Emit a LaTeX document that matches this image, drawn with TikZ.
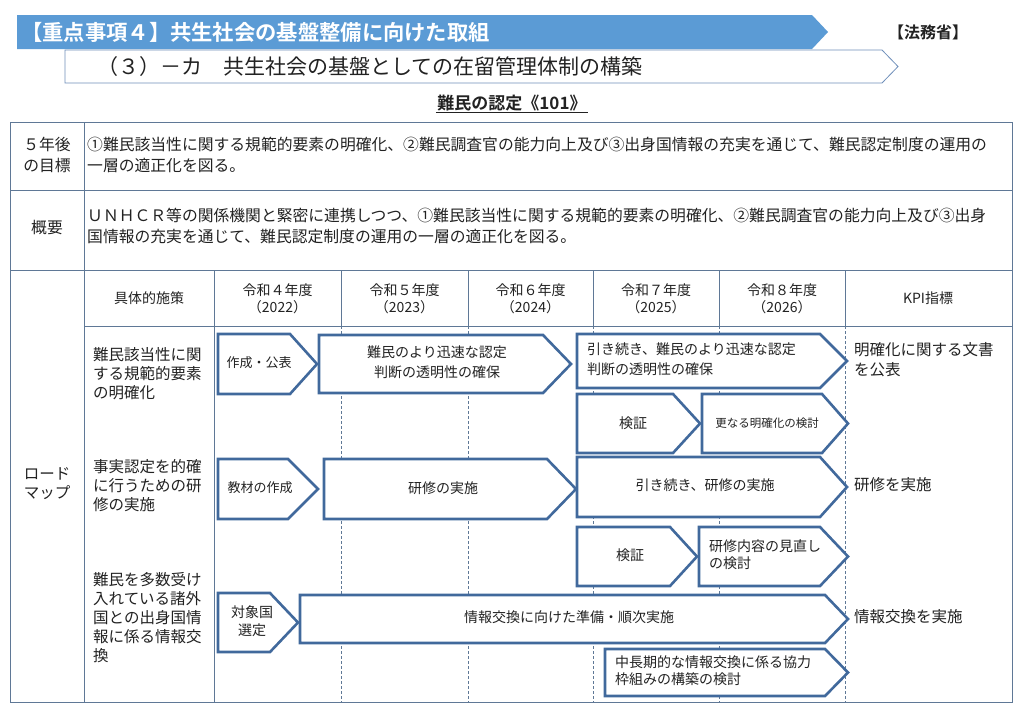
\documentclass[tikz,border=0pt]{standalone}
\usepackage{fontspec}
\setmainfont{Noto Sans CJK JP}[BoldFont={Noto Sans CJK JP Bold}]
\definecolor{bannerc}{HTML}{5B9BD5}
\definecolor{subc}{HTML}{6F8FBA}
\definecolor{arrowc}{HTML}{41699C}
\definecolor{tablec}{HTML}{5F7896}
\definecolor{txtc}{HTML}{222222}
\newcommand\fs[2]{\fontsize{#1}{#2}\selectfont}
\newcommand\pent[5]{\draw[arr] (#1,#2) -- (#3,#2) -- (#4,{(#2+#5)/2}) -- (#3,#5) -- (#1,#5) -- cycle;}
\begin{document}
\begin{tikzpicture}[x=1pt,y=-1pt,
  arr/.style={draw=arrowc, line width=2.6pt, fill=white, line join=miter},
  tline/.style={draw=tablec, line width=0.9pt},
  dline/.style={draw=tablec, line width=0.8pt, dash pattern=on 3pt off 2pt},
  txt/.style={inner sep=0pt, text=txtc},
  body/.style={txt, font=\fs{15.8}{20.5}},
  rlab/.style={txt, font=\fs{15.5}{19}, align=left, anchor=west},
  hd/.style={txt, font=\fs{14}{17}, align=center},
  atext/.style={txt, font=\fs{14}{20}, align=center},
  kpi/.style={txt, font=\fs{15.5}{20}, align=left, anchor=west}]
\useasboundingbox (0,0) rectangle (1024,724);
\fill[white] (0,0) rectangle (1024,724);
% banner
\fill[bannerc] (17,15) -- (812,15) -- (828,32) -- (812,49) -- (17,49) -- cycle;
\node[txt, text=white, anchor=west, font=\bfseries\fs{21.3}{24}] (title) at (21,32) {【重点事項４】共生社会の基盤整備に向けた取組};
\node[txt, anchor=center, font=\bfseries\fs{16}{18}] (ministry) at (928,32) {【法務省】};
\draw[subc, line width=0.8pt, fill=white] (65,50) -- (882,50) -- (898,66.5) -- (882,83) -- (65,83) -- cycle;
\node[txt, anchor=west, font=\fs{21}{24}] (subtitle) at (97,66.5) {（３）－カ　共生社会の基盤としての在留管理体制の構築};
\node[txt, anchor=center, font=\bfseries\fs{17}{20}, inner sep=1.5pt] (head) at (512,103) {難民の認定《101》};
\draw[txtc, line width=0.9pt] (head.south west) -- (head.south east);
% table
\draw[tline] (10,122) rectangle (1012,702);
\draw[tline] (10,190) -- (1012,190);
\draw[tline] (10,270) -- (1012,270);
\draw[tline] (84,326) -- (1012,326);
\draw[tline] (84,122) -- (84,702);
\draw[tline] (214,270) -- (214,702);
\foreach \x in {341,468,593,719,845} {
  \draw[tline] (\x,270) -- (\x,326);
  \draw[dline] (\x,326) -- (\x,702);
}
% goal row
\node[body, align=center] (goalh) at (47,155) {５年後\\の目標};
\node[body, align=left, anchor=west] (goal) at (87,155) {①難民該当性に関する規範的要素の明確化、②難民調査官の能力向上及び③出身国情報の充実を通じて、難民認定制度の運用の\\一層の適正化を図る。};
% overview row
\node[body, align=center] (ovh) at (47,228) {概要};
\node[body, align=left, anchor=west] (ov) at (87,226) {ＵＮＨＣＲ等の関係機関と緊密に連携しつつ、①難民該当性に関する規範的要素の明確化、②難民調査官の能力向上及び③出身\\国情報の充実を通じて、難民認定制度の運用の一層の適正化を図る。};
% header
\node[txt, font=\fs{15.5}{19}, align=center] (rm) at (47,484) {ロード\\マップ};
\node[hd] (h0) at (149,298) {具体的施策};
\node[hd] (h1) at (277.5,298.5) {令和４年度\\（2022）};
\node[hd] (h2) at (404.5,298.5) {令和５年度\\（2023）};
\node[hd] (h3) at (530.5,298.5) {令和６年度\\（2024）};
\node[hd] (h4) at (656,298.5) {令和７年度\\（2025）};
\node[hd] (h5) at (782,298.5) {令和８年度\\（2026）};
\node[hd] (h6) at (928,298) {KPI指標};
% row labels
\node[rlab] (r1) at (93,374) {難民該当性に関\\する規範的要素\\の明確化};
\node[rlab] (r2) at (93,486) {事実認定を的確\\に行うための研\\修の実施};
\node[rlab] (r3) at (93,618) {難民を多数受け\\入れている諸外\\国との出身国情\\報に係る情報交\\換};
% row 1 arrows
\pent{218}{334}{290}{317}{394}
\node[atext, font=\fs{13}{16}] (a1) at (259,363) {作成・公表};
\pent{319}{335}{543}{571}{393}
\node[atext] (a2) at (437,362) {難民のより迅速な認定\\判断の透明性の確保};
\pent{577}{334}{820}{847}{388}
\node[atext, align=left, anchor=west] (a3) at (587,359) {引き続き、難民のより迅速な認定\\判断の透明性の確保};
\pent{577}{394}{673}{700}{453}
\node[atext] (a4) at (633,423) {検証};
\pent{702}{394}{822}{848}{453}
\node[atext, font=\fs{11.5}{14}] (a5) at (767,423) {更なる明確化の検討};
% row 2 arrows
\pent{218}{459}{288}{318}{519}
\node[atext, font=\fs{13}{16}] (b1) at (260,488) {教材の作成};
\pent{324}{459}{547}{576}{519}
\node[atext] (b2) at (443,488) {研修の実施};
\pent{577}{457}{820}{847}{517}
\node[atext] (b3) at (705,485) {引き続き、研修の実施};
\pent{577}{527}{670}{697}{586}
\node[atext] (b4) at (630,555) {検証};
\pent{699}{527}{820}{848}{586}
\node[atext, font=\fs{14}{17}, align=left, anchor=west] (b5) at (709,555) {研修内容の見直し\\の検討};
% row 3 arrows
\pent{218}{593}{270}{298}{652}
\node[atext, font=\fs{14}{18}] (c1) at (252,621) {対象国\\選定};
\pent{300}{595}{825}{848}{643}
\node[atext] (c2) at (569,617) {情報交換に向けた準備・順次実施};
\pent{605}{649}{825}{848}{696}
\node[atext, font=\fs{14}{17}, align=left, anchor=west] (c3) at (615,670.5) {中長期的な情報交換に係る協力\\枠組みの構築の検討};
% KPI
\node[kpi] (k1) at (854,360) {明確化に関する文書\\を公表};
\node[kpi] (k2) at (854,485) {研修を実施};
\node[kpi] (k3) at (854,617) {情報交換を実施};
\end{tikzpicture}
\end{document}
